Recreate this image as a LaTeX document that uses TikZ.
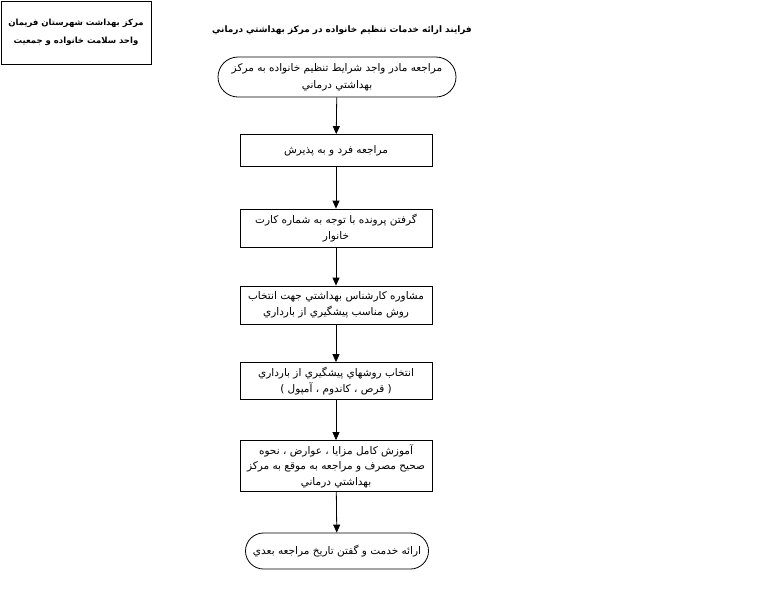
\documentclass[tikz,border=0pt]{standalone}
\usepackage{fontspec}
\setmainfont{Liberation Sans}
\newfontfamily\farsi[Script=Arabic]{DejaVu Sans}
\TeXXeTstate=1
\usepackage{tikz}
\usetikzlibrary{shapes.misc,arrows.meta}
\newcommand{\rtltext}[1]{\beginR #1\endR}

\begin{document}
\begin{tikzpicture}[
  x=1pt, y=-1pt,
  font=\farsi\fontsize{10.5}{15.5}\selectfont,
  box/.style={rectangle, draw, line width=0.8pt,
              minimum width=192pt, inner sep=1pt,
              text centered, fill=white},
  term/.style={rounded rectangle, draw, line width=0.8pt,
               inner sep=1pt, text centered, fill=white},
  arr/.style={-{Triangle[width=7pt,length=8pt]}, line width=0.8pt},
  every node/.style={align=center}
]
\useasboundingbox (0,0) rectangle (778,592);

% ---- Header and title ----
\node[box, minimum width=150pt, minimum height=63pt, font=\farsi\bfseries\fontsize{8.5}{18}\selectfont]
  (unit) at (76,32.5) {\rtltext{مركز بهداشت شهرستان فريمان}\\\rtltext{واحد سلامت خانواده و جمعيت}};
\node[font=\farsi\bfseries\fontsize{8.9}{12}\selectfont] (title) at (342,30)
  {\rtltext{فرايند ارائه خدمات تنظيم خانواده در مركز بهداشتي درماني}};

% ---- Process column ----
\node[term, minimum width=240pt, minimum height=40pt, font=\farsi\fontsize{10.5}{17}\selectfont] (visit) at (337,77)
  {\rtltext{مراجعه مادر واجد شرايط تنظيم خانواده به مركز}\\\rtltext{بهداشتي درماني}};
\node[box, minimum height=32pt] (admit)   at (336,150.5) {\rtltext{مراجعه فرد و به پذيرش}};
\node[box, minimum height=38pt] (record)  at (336,228)
  {\rtltext{گرفتن پرونده با توجه به شماره كارت}\\\rtltext{خانوار}};
\node[box, minimum height=38pt] (counsel) at (336,305)
  {\rtltext{مشاوره كارشناس بهداشتي جهت انتخاب}\\\rtltext{روش مناسب پيشگيري از بارداري}};
\node[box, minimum height=37pt] (method)  at (336,381)
  {\rtltext{انتخاب روشهاي پيشگيري از بارداري}\\\rtltext{( قرص ، كاندوم ، آمپول )}};
\node[box, minimum height=51pt] (teach)   at (336,466)
  {\rtltext{آموزش كامل مزايا ، عوارض ، نحوه}\\\rtltext{صحيح مصرف و مراجعه به موقع به مركز}\\\rtltext{بهداشتي درماني}};
\node[term, minimum width=185pt, minimum height=36pt] (serve) at (337,551)
  {\rtltext{ارائه خدمت و گفتن تاريخ مراجعه بعدي}};

\draw[arr] (visit)   -- (admit);
\draw[arr] (admit)   -- (record);
\draw[arr] (record)  -- (counsel);
\draw[arr] (counsel) -- (method);
\draw[arr] (method)  -- (teach);
\draw[arr] (teach)   -- (serve);

\end{tikzpicture}
\end{document}
